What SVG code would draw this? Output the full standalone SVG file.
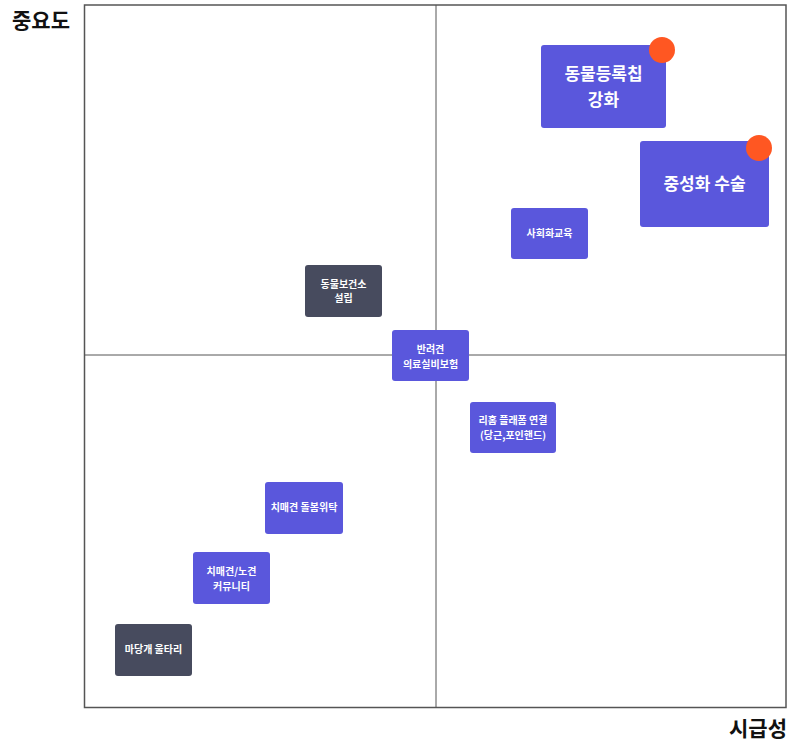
<svg xmlns="http://www.w3.org/2000/svg" width="789" height="744" viewBox="0 0 789 744">
<style>
.t{font-family:"Noto Sans CJK KR","Noto Sans",sans-serif;font-weight:700;fill:#fff;text-anchor:middle}
.s{font-size:10px}
.l{font-size:17px}
.p{fill:#5a57dc}
.d{fill:#474b5e}
.dot{fill:#ff5722}
.ax{font-family:"Noto Sans CJK KR","Noto Sans",sans-serif;font-weight:700;font-size:21px;fill:#111}
</style>
<rect width="789" height="744" fill="#fff"/>
<g id="axes">
<rect x="84.5" y="5" width="701.5" height="702.5" fill="none" stroke="#555" stroke-width="1.5"/>
<line x1="436" y1="5" x2="436" y2="707.5" stroke="#555" stroke-width="1"/>
<line x1="84.5" y1="355" x2="786" y2="355" stroke="#555" stroke-width="1"/>
<text class="ax" x="12" y="28">중요도</text>
<text class="ax" x="787" y="736" text-anchor="end">시급성</text>
</g>
<g id="connectors"></g>
<g id="n1"><rect class="p" x="541" y="45" width="125" height="83" rx="3"/><text class="t l" x="603.5" y="80">동물등록칩</text><text class="t l" x="603.5" y="106">강화</text><circle class="dot" cx="662" cy="50" r="13"/></g>
<g id="n2"><rect class="p" x="640" y="141" width="129" height="86" rx="3"/><text class="t l" x="704.5" y="190">중성화 수술</text><circle class="dot" cx="759" cy="148" r="13"/></g>
<g id="n3"><rect class="p" x="511" y="208" width="77" height="51" rx="3"/><text class="t s" x="549.5" y="237">사회화교육</text></g>
<g id="n4"><rect class="d" x="305" y="265" width="77" height="52" rx="3"/><text class="t s" x="343.5" y="288">동물보건소</text><text class="t s" x="343.5" y="302">설립</text></g>
<g id="n5"><rect class="p" x="392" y="330" width="77" height="51" rx="3"/><text class="t s" x="430.5" y="353">반려견</text><text class="t s" x="430.5" y="368">의료실비보험</text></g>
<g id="n6"><rect class="p" x="470" y="402" width="86" height="51" rx="3"/><text class="t s" x="513" y="424">리홈 플래폼 연결</text><text class="t s" x="513" y="439">(당근,포인핸드)</text></g>
<g id="n7"><rect class="p" x="265" y="482" width="78" height="52" rx="3"/><text class="t s" x="304" y="511">치매견 돌봄위탁</text></g>
<g id="n8"><rect class="p" x="193" y="552" width="77" height="52" rx="3"/><text class="t s" x="231.5" y="575">치매견/노견</text><text class="t s" x="231.5" y="590">커뮤니티</text></g>
<g id="n9"><rect class="d" x="115" y="624" width="77" height="52" rx="3"/><text class="t s" x="153.5" y="653">마당개 울타리</text></g>
</svg>
